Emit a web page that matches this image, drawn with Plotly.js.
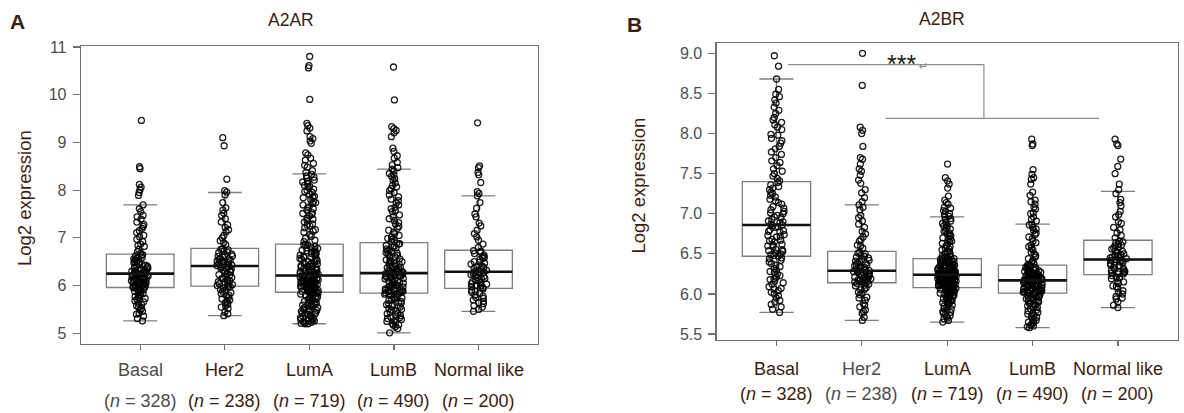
<!DOCTYPE html>
<html>
<head>
<meta charset="utf-8">
<script src="https://cdn.plot.ly/plotly-3.0.1.min.js"></script>
<style>html,body{margin:0;padding:0;background:#fff;}#chart{width:1184px;height:413px;}</style>
</head>
<body>
<div id="chart"></div>
<script>
// ---------- data ----------
const categories = ['Basal', 'Her2', 'LumA', 'LumB', 'Normal like'];
const sampleSizes = [328, 238, 719, 490, 200];

// A2AR box statistics
const a2arQ1 = [5.96, 5.99, 5.86, 5.84, 5.94];
const a2arMedian = [6.25, 6.41, 6.21, 6.26, 6.29];
const a2arQ3 = [6.66, 6.78, 6.87, 6.90, 6.74];
const a2arLowerWhisker = [5.26, 5.37, 5.20, 5.01, 5.46];
const a2arUpperWhisker = [7.69, 7.95, 8.34, 8.44, 7.88];

// A2BR box statistics
const a2brQ1 = [6.47, 6.14, 6.08, 6.01, 6.24];
const a2brMedian = [6.86, 6.29, 6.24, 6.17, 6.43];
const a2brQ3 = [7.40, 6.53, 6.44, 6.36, 6.67];
const a2brLowerWhisker = [5.77, 5.67, 5.65, 5.58, 5.83];
const a2brUpperWhisker = [8.68, 7.11, 6.96, 6.87, 7.28];

// A2AR sample points (a subset of each group)
const a2arBasal = [9.46, 8.49, 8.45, 8.12, 8.06, 8.01, 7.95, 7.89, 7.69, 7.61, 7.44, 7.39, 7.28, 7.2, 7.11, 7.02, 6.97, 6.87, 6.82, 6.71,
  6.65, 6.62, 6.57, 6.56, 6.52, 6.49, 6.48, 6.44, 6.41, 6.4, 6.37, 6.35, 6.35, 6.32, 6.31, 6.3, 6.28, 6.27, 6.26, 6.26,
  6.24, 6.23, 6.21, 6.2, 6.2, 6.17, 6.16, 6.14, 6.13, 6.11, 6.1, 6.08, 6.07, 6.05, 6.04, 6.02, 6.01, 6.0, 5.98, 5.97,
  5.95, 5.92, 5.91, 5.88, 5.86, 5.83, 5.81, 5.77, 5.75, 5.71, 5.68, 5.63, 5.6, 5.55, 5.52, 5.46, 5.42, 5.36, 5.31, 5.26,
  6.63, 6.59, 6.54, 6.5, 6.46, 6.43, 6.39, 6.33, 6.29, 6.25, 6.22, 6.18, 6.15, 6.12, 6.09, 6.06, 6.03, 5.99, 5.96, 5.93,
  5.89, 5.85, 5.79, 5.73, 5.66, 5.58, 5.49, 5.4, 6.76, 6.84, 6.92, 7.05, 7.15, 7.24, 7.33, 7.47, 7.55, 6.68, 6.36, 6.13];
const a2arHer2 = [9.10, 8.93, 8.23, 7.99, 7.96, 7.9, 7.74, 7.63, 7.52, 7.47, 7.33, 7.22, 7.13, 7.05, 6.94, 6.86,
  6.77, 6.75, 6.7, 6.69, 6.64, 6.62, 6.6, 6.56, 6.55, 6.51, 6.5, 6.47, 6.46, 6.44, 6.43, 6.42,
  6.4, 6.37, 6.36, 6.32, 6.3, 6.28, 6.23, 6.22, 6.17, 6.15, 6.14, 6.1, 6.07, 6.05, 6.04, 6.01, 6.0,
  5.97, 5.95, 5.9, 5.88, 5.85, 5.8, 5.78, 5.72, 5.7, 5.64, 5.61, 5.55, 5.52, 5.45, 5.41, 5.37,
  6.76, 6.72, 6.66, 6.61, 6.57, 6.53, 6.49, 6.45, 6.39, 6.34, 6.29, 6.25, 6.19, 6.12, 6.08, 6.02, 5.98, 5.92, 5.83, 5.75,
  5.66, 5.58, 6.9, 7.0, 7.17, 7.27, 7.4, 7.58];
const a2arLumA = [10.8, 10.61, 10.56, 9.9, 9.4, 9.35, 9.3, 9.24, 9.12, 9.08, 9.03, 8.98, 8.78, 8.74, 8.67, 8.63, 8.56, 8.52, 8.48, 8.41,
  8.37, 8.3, 8.27, 8.21, 8.17, 8.1, 8.06, 7.99, 7.95, 7.87, 7.84, 7.76, 7.72, 7.65, 7.61, 7.53, 7.49, 7.41, 7.37, 7.29, 7.25, 7.17, 7.12, 7.03, 6.95,
  6.86, 6.85, 6.82, 6.79, 6.78, 6.74, 6.73, 6.7, 6.67, 6.66, 6.63, 6.6, 6.59, 6.56, 6.55, 6.52, 6.5, 6.47, 6.46, 6.44, 6.42, 6.4, 6.39, 6.37, 6.35, 6.34, 6.32, 6.3, 6.29, 6.28, 6.26, 6.25, 6.24, 6.23, 6.22, 6.21,
  6.2, 6.2, 6.18, 6.17, 6.16, 6.15, 6.14, 6.14, 6.12, 6.11, 6.1, 6.09, 6.08, 6.06, 6.06, 6.05, 6.03, 6.03, 6.02, 6.0, 6.0, 5.99, 5.97, 5.97, 5.96, 5.94, 5.94, 5.93, 5.91, 5.91, 5.9, 5.88, 5.88, 5.87, 5.86, 5.86,
  5.85, 5.83, 5.82, 5.8, 5.78, 5.77, 5.74, 5.73, 5.71, 5.68, 5.67, 5.65, 5.63, 5.6, 5.59, 5.57, 5.54, 5.53, 5.5, 5.48, 5.46, 5.43, 5.42, 5.4, 5.37, 5.36, 5.33, 5.32, 5.29, 5.28, 5.26, 5.24, 5.23, 5.21, 5.2, 5.2,
  6.85, 6.8, 6.76, 6.71, 6.68, 6.64, 6.61, 6.57, 6.53, 6.49, 6.45, 6.41, 6.38, 6.33, 6.3, 6.27, 6.24, 6.22, 6.19, 6.17,
  6.13, 6.11, 6.07, 6.04, 6.01, 5.98, 5.95, 5.92, 5.89, 5.87, 5.84, 5.81, 5.76, 5.72, 5.69, 5.64, 5.61, 5.56, 5.51, 5.47,
  5.44, 5.39, 5.35, 5.31, 5.27, 5.22, 6.92, 6.99, 7.07, 7.14, 7.21, 7.27, 7.33, 7.39, 7.46, 7.51, 7.58, 7.63, 7.69, 7.74,
  7.8, 7.86, 7.91, 7.97, 8.02, 8.08, 8.14, 8.19, 8.25, 8.33];
const a2arLumB = [10.58, 9.89, 9.33, 9.29, 9.25, 9.2, 9.12, 8.88, 8.81, 8.72, 8.67, 8.58, 8.53, 8.47, 8.44, 8.35, 8.29, 8.21, 8.1, 8.03, 7.95, 7.86, 7.78, 7.69, 7.61, 7.55, 7.44, 7.36, 7.29, 7.2, 7.12, 7.05, 6.99, 6.94, 6.92,
  6.89, 6.87, 6.83, 6.81, 6.77, 6.75, 6.71, 6.69, 6.66, 6.62, 6.6, 6.58, 6.54, 6.52, 6.49, 6.47, 6.45, 6.41, 6.4, 6.38, 6.35, 6.34, 6.32, 6.31, 6.29, 6.28, 6.27, 6.27, 6.26, 6.26,
  6.25, 6.24, 6.23, 6.21, 6.2, 6.19, 6.17, 6.15, 6.14, 6.12, 6.1, 6.09, 6.07, 6.06, 6.03, 6.02, 6.0, 5.99, 5.97, 5.96, 5.94, 5.92, 5.91, 5.9, 5.89, 5.88, 5.87, 5.86, 5.85, 5.84,
  5.83, 5.81, 5.79, 5.77, 5.74, 5.72, 5.7, 5.67, 5.65, 5.62, 5.6, 5.58, 5.55, 5.52, 5.5, 5.47, 5.44, 5.42, 5.39, 5.37, 5.34, 5.31, 5.29, 5.26, 5.23, 5.2, 5.17, 5.14, 5.1, 5.01,
  6.88, 6.84, 6.79, 6.73, 6.68, 6.63, 6.56, 6.5, 6.43, 6.37, 6.3, 6.24, 6.18, 6.11, 6.05, 5.98, 5.93, 5.88, 5.82, 5.75,
  5.69, 5.63, 5.56, 5.49, 5.41, 5.33, 5.25, 5.18, 6.97, 7.02, 7.09, 7.16, 7.24, 7.32, 7.4, 7.48, 7.57, 7.64, 7.73, 7.81,
  7.9, 7.99, 8.07, 8.15, 8.24, 8.32, 8.4, 6.21, 6.01, 6.46];
const a2arNormal = [9.41, 8.51, 8.47, 8.37, 8.32, 8.16, 7.97, 7.93, 7.88, 7.74, 7.62, 7.44, 7.31, 7.16, 7.02, 6.87,
  6.73, 6.7, 6.67, 6.61, 6.59, 6.55, 6.5, 6.49, 6.45, 6.41, 6.4, 6.36, 6.34, 6.31, 6.3,
  6.28, 6.26, 6.25, 6.21, 6.19, 6.17, 6.14, 6.11, 6.1, 6.06, 6.04, 6.03, 6.0, 5.98, 5.96,
  5.93, 5.9, 5.88, 5.84, 5.8, 5.78, 5.73, 5.7, 5.67, 5.62, 5.58, 5.55, 5.5, 5.46,
  6.72, 6.64, 6.57, 6.47, 6.38, 6.32, 6.27, 6.23, 6.15, 6.08, 6.01, 5.95, 5.86, 5.75, 5.64, 6.8, 6.95, 7.09, 7.25, 7.5];

// A2BR sample points
const a2brBasal = [8.97, 8.84, 8.68, 8.55, 8.49, 8.42, 8.33, 8.29, 8.2, 8.17, 8.11, 8.05, 7.99, 7.94, 7.88, 7.81, 7.77, 7.7, 7.64, 7.56, 7.5, 7.44,
  7.39, 7.36, 7.34, 7.3, 7.27, 7.23, 7.21, 7.18, 7.14, 7.12, 7.09, 7.05, 7.03, 7.0, 6.98, 6.95, 6.93, 6.9, 6.89, 6.87, 6.86,
  6.85, 6.83, 6.8, 6.79, 6.77, 6.74, 6.73, 6.71, 6.68, 6.67, 6.65, 6.62, 6.61, 6.59, 6.56, 6.55, 6.53, 6.51, 6.5, 6.48, 6.47,
  6.45, 6.42, 6.38, 6.36, 6.34, 6.3, 6.27, 6.25, 6.21, 6.18, 6.16, 6.12, 6.09, 6.06, 6.02, 5.98, 5.95, 5.9, 5.87, 5.81, 5.77,
  7.98, 7.91, 7.84, 7.74, 7.66, 7.6, 7.53, 7.47, 7.41, 7.32, 7.25, 7.16, 7.07, 7.01, 6.96, 6.91, 6.84, 6.78, 6.72, 6.66,
  6.6, 6.54, 6.49, 6.44, 6.4, 6.32, 6.23, 6.14, 6.07, 6.0, 5.92, 5.84, 8.08, 8.14, 8.25, 8.38, 8.46, 6.28, 6.19, 6.04];
const a2brHer2 = [9.0, 8.6, 8.08, 8.04, 8.0, 7.84, 7.7, 7.68, 7.62, 7.56, 7.53, 7.48, 7.42, 7.38, 7.3, 7.26, 7.2, 7.15, 7.11, 7.05, 6.98, 6.91, 6.83, 6.78, 6.71, 6.66, 6.61, 6.57,
  6.52, 6.5, 6.48, 6.46, 6.45, 6.42, 6.4, 6.39, 6.37, 6.35, 6.34, 6.32, 6.31, 6.3, 6.29,
  6.28, 6.27, 6.27, 6.25, 6.24, 6.23, 6.22, 6.21, 6.2, 6.19, 6.18, 6.17, 6.16, 6.15, 6.14,
  6.12, 6.1, 6.08, 6.05, 6.02, 5.99, 5.96, 5.92, 5.88, 5.84, 5.8, 5.76, 5.71, 5.67,
  6.51, 6.47, 6.43, 6.41, 6.38, 6.36, 6.33, 6.3, 6.28, 6.26, 6.24, 6.21, 6.19, 6.17, 6.15, 6.13, 6.11, 6.06, 6.01, 5.95,
  5.86, 5.78, 6.6, 6.68, 6.75, 6.87, 6.95, 7.08];
const a2brLumA = [7.62, 7.45, 7.41, 7.37, 7.32, 7.22, 7.17, 7.12, 7.08, 7.04, 7.0, 6.97, 6.94, 6.91, 6.88, 6.85, 6.82, 6.79, 6.76, 6.73, 6.7, 6.68, 6.65, 6.61, 6.59, 6.56, 6.53, 6.51, 6.49, 6.47, 6.45,
  6.44, 6.43, 6.42, 6.41, 6.4, 6.39, 6.38, 6.37, 6.36, 6.36, 6.35, 6.34, 6.33, 6.32, 6.31, 6.31, 6.3, 6.29, 6.29, 6.28, 6.28, 6.27, 6.27, 6.26, 6.26, 6.25, 6.25, 6.25, 6.24, 6.24, 6.24, 6.24,
  6.24, 6.23, 6.23, 6.22, 6.22, 6.21, 6.21, 6.2, 6.2, 6.19, 6.19, 6.18, 6.18, 6.17, 6.16, 6.16, 6.15, 6.15, 6.14, 6.14, 6.13, 6.12, 6.12, 6.11, 6.11, 6.1, 6.1, 6.09, 6.09, 6.08, 6.08, 6.08,
  6.07, 6.06, 6.05, 6.04, 6.03, 6.02, 6.01, 6.0, 5.99, 5.98, 5.97, 5.96, 5.95, 5.94, 5.93, 5.92, 5.9, 5.89, 5.87, 5.86, 5.84, 5.82, 5.8, 5.78, 5.76, 5.74, 5.72, 5.7, 5.67, 5.65,
  6.43, 6.41, 6.39, 6.37, 6.35, 6.33, 6.31, 6.3, 6.28, 6.26, 6.25, 6.23, 6.21, 6.2, 6.18, 6.17, 6.15, 6.13, 6.12, 6.1,
  6.09, 6.07, 6.05, 6.03, 6.0, 5.98, 5.95, 5.93, 5.91, 5.88, 5.85, 5.81, 5.77, 5.73, 5.69, 6.46, 6.48, 6.5, 6.52, 6.55,
  6.57, 6.6, 6.63, 6.66, 6.69, 6.72, 6.75, 6.78, 6.81, 6.84, 6.87, 6.9, 6.93, 6.96, 6.99, 7.03, 7.07, 7.14, 6.32, 6.27,
  6.22, 6.16, 6.11, 6.06, 6.02, 5.97, 6.36, 6.29, 6.24, 6.19, 6.14, 6.08, 6.04, 5.99, 6.34, 6.26, 6.21, 6.13, 6.4, 6.45];
const a2brLumB = [7.93, 7.87, 7.85, 7.55, 7.49, 7.45, 7.43, 7.37, 7.27, 7.23, 7.17, 7.12, 7.06, 7.01, 6.96, 6.91, 6.87, 6.83, 6.79, 6.74, 6.69, 6.64, 6.59, 6.55, 6.5, 6.46, 6.42, 6.38,
  6.36, 6.35, 6.34, 6.33, 6.32, 6.31, 6.3, 6.29, 6.28, 6.27, 6.27, 6.26, 6.25, 6.24, 6.23, 6.23, 6.22, 6.21, 6.21, 6.2, 6.2, 6.19, 6.19, 6.18, 6.18, 6.18, 6.17, 6.17,
  6.16, 6.16, 6.15, 6.15, 6.14, 6.14, 6.13, 6.12, 6.12, 6.11, 6.1, 6.1, 6.09, 6.08, 6.08, 6.07, 6.06, 6.06, 6.05, 6.04, 6.04, 6.03, 6.03, 6.02, 6.02, 6.01,
  6.0, 5.99, 5.98, 5.96, 5.95, 5.94, 5.92, 5.91, 5.89, 5.88, 5.86, 5.85, 5.83, 5.81, 5.79, 5.77, 5.75, 5.73, 5.71, 5.69, 5.67, 5.65, 5.62, 5.6, 5.59, 5.58,
  6.35, 6.33, 6.31, 6.29, 6.27, 6.25, 6.22, 6.2, 6.18, 6.16, 6.14, 6.12, 6.1, 6.08, 6.06, 6.04, 6.02, 6.0, 5.97, 5.94,
  5.91, 5.88, 5.84, 5.8, 5.76, 5.72, 5.68, 5.64, 5.61, 6.4, 6.44, 6.48, 6.52, 6.57, 6.61, 6.66, 6.71, 6.76, 6.81, 6.86,
  6.93, 7.0, 7.08, 7.15, 6.24, 6.19, 6.13, 6.07, 6.01, 5.96, 5.9, 6.28, 6.11, 6.05, 5.99];
const a2brNormal = [7.93, 7.87, 7.85, 7.68, 7.59, 7.5, 7.37, 7.3, 7.25, 7.18, 7.1, 7.03, 6.96, 6.9, 6.83, 6.76, 6.7,
  6.66, 6.64, 6.62, 6.6, 6.58, 6.56, 6.54, 6.52, 6.5, 6.48, 6.47, 6.46, 6.45, 6.44, 6.43,
  6.42, 6.41, 6.4, 6.38, 6.36, 6.35, 6.33, 6.31, 6.3, 6.29, 6.28, 6.27, 6.26, 6.25,
  6.23, 6.21, 6.19, 6.16, 6.13, 6.1, 6.07, 6.04, 6.0, 5.97, 5.94, 5.9, 5.86, 5.83,
  6.65, 6.61, 6.57, 6.53, 6.49, 6.45, 6.42, 6.39, 6.36, 6.32, 6.28, 6.25, 6.2, 6.15, 6.09, 6.02, 5.95, 6.73, 6.8, 6.88, 6.99, 7.14];

const a2arSamples = [a2arBasal, a2arHer2, a2arLumA, a2arLumB, a2arNormal];
const a2brSamples = [a2brBasal, a2brHer2, a2brLumA, a2brLumB, a2brNormal];

// ---------- styles ----------
const FONT = 'Liberation Sans, Arial, Helvetica, sans-serif';
const BROWN = '#3b1d12';
const GREY_TXT = '#4d4d4d';
const AXIS_GREY = '#707070';
const labelColorsA = [GREY_TXT, BROWN, BROWN, BROWN, BROWN];
const labelColorsB = [BROWN, GREY_TXT, BROWN, BROWN, BROWN];

function flatten(samples) {
  const xs = [], ys = [];
  samples.forEach((vals, i) => vals.forEach(v => { xs.push(categories[i]); ys.push(v); }));
  return {xs, ys};
}

function panelTraces(xa, ya, q1, med, q3, lo, hi, samples) {
  const pts = flatten(samples);
  return [
    { type: 'box', xaxis: xa, yaxis: ya, x: categories, q1: q1, median: med, q3: q3,
      lowerfence: lo, upperfence: hi, boxpoints: false, width: 0.8, whiskerwidth: 0.5,
      line: {color: '#7e7e7e', width: 1.3}, fillcolor: 'rgba(255,255,255,0)', hoverinfo: 'skip' },
    { type: 'box', xaxis: xa, yaxis: ya, x: pts.xs, y: pts.ys, boxpoints: 'all', jitter: 0.28, pointpos: 0,
      width: 0.8, line: {color: 'rgba(0,0,0,0)', width: 0}, fillcolor: 'rgba(0,0,0,0)',
      marker: {symbol: 'circle-open', size: 6, color: 'rgba(0,0,0,0.88)', line: {width: 1.3}}, hoverinfo: 'skip' },
    { type: 'box', xaxis: xa, yaxis: ya, x: categories, q1: med, median: med, q3: med,
      lowerfence: med, upperfence: med, boxpoints: false, width: 0.8, whiskerwidth: 0,
      line: {color: '#111111', width: 2.6}, fillcolor: 'rgba(0,0,0,0)', hoverinfo: 'skip' }
  ];
}

const data = [
  ...panelTraces('x', 'y', a2arQ1, a2arMedian, a2arQ3, a2arLowerWhisker, a2arUpperWhisker, a2arSamples),
  ...panelTraces('x2', 'y2', a2brQ1, a2brMedian, a2brQ3, a2brLowerWhisker, a2brUpperWhisker, a2brSamples)
];

const W = 1184, H = 413;
const px = v => v / W;
const py = v => 1 - v / H;

const xAxisBase = {
  type: 'category', categoryorder: 'array', categoryarray: categories,
  range: [-0.7, 4.7], showline: true, mirror: true, linecolor: AXIS_GREY, linewidth: 1.3,
  ticks: 'outside', ticklen: 5, tickcolor: AXIS_GREY, tickwidth: 1.2,
  showticklabels: false, showgrid: false, zeroline: false, fixedrange: true
};
const yAxisBase = {
  showline: true, mirror: true, linecolor: AXIS_GREY, linewidth: 1.3,
  ticks: 'outside', ticklen: 7, tickcolor: AXIS_GREY, tickwidth: 1.2,
  showgrid: false, zeroline: false, fixedrange: true,
  tickfont: {family: FONT, size: 16, color: GREY_TXT}, ticklabelstandoff: 3
};

const annotations = [];
function addText(text, x, y, size, color, opts) {
  annotations.push(Object.assign({text: text, x: x, y: y, xref: 'paper', yref: 'paper',
    showarrow: false, xanchor: 'center', yanchor: 'middle',
    font: {family: FONT, size: size, color: color}}, opts || {}));
}
// panel letters and titles
addText('<b>A</b>', px(17.5), py(21.5), 21, BROWN);
addText('<b>B</b>', px(634.5), py(24), 21, BROWN);
addText('A2AR', px(291), py(20.5), 17.5, BROWN);
addText('A2BR', px(942), py(19), 17.5, BROWN);
addText('Log2 expression', px(24), py(198), 18.5, BROWN, {textangle: -90});
addText('Log2 expression', px(637.5), py(186), 18.5, BROWN, {textangle: -90});

// category labels and group sizes
categories.forEach((c, i) => {
  annotations.push({text: c, x: c, xref: 'x', y: py(370), yref: 'paper', showarrow: false,
    xanchor: 'center', yanchor: 'middle', font: {family: FONT, size: 18, color: labelColorsA[i]}});
  annotations.push({text: '(<i>n</i> = ' + sampleSizes[i] + ')', x: c, xref: 'x', y: py(401), yref: 'paper',
    showarrow: false, xanchor: 'center', yanchor: 'middle', font: {family: FONT, size: 18, color: labelColorsA[i]}});
  annotations.push({text: c, x: c, xref: 'x2', y: py(369), yref: 'paper', showarrow: false,
    xanchor: 'center', yanchor: 'middle', font: {family: FONT, size: 18, color: labelColorsB[i]}});
  annotations.push({text: '(<i>n</i> = ' + sampleSizes[i] + ')', x: c, xref: 'x2', y: py(394), yref: 'paper',
    showarrow: false, xanchor: 'center', yanchor: 'middle', font: {family: FONT, size: 18, color: labelColorsB[i]}});
});

// significance mark
annotations.push({text: '***', x: 1.47, xref: 'x2', y: 8.87, yref: 'y2', showarrow: false,
  xanchor: 'center', yanchor: 'middle', font: {family: FONT, size: 25, color: '#1a1a1a'}});
annotations.push({text: '\u21b5', x: 1.72, xref: 'x2', y: 8.83, yref: 'y2', showarrow: false,
  xanchor: 'center', yanchor: 'middle', font: {family: 'DejaVu Sans', size: 11, color: '#8a8a8a'}});

const bracket = {color: '#8c8c8c', width: 1.2};
const shapes = [
  {type: 'line', xref: 'x2', yref: 'y2', x0: 0.137, x1: 2.43, y0: 8.86, y1: 8.86, line: bracket},
  {type: 'line', xref: 'x2', yref: 'y2', x0: 2.43, x1: 2.43, y0: 8.86, y1: 8.19, line: bracket},
  {type: 'line', xref: 'x2', yref: 'y2', x0: 1.276, x1: 3.78, y0: 8.19, y1: 8.19, line: bracket}
];

const layout = {
  width: W, height: H, autosize: false,
  margin: {l: 0, r: 0, t: 0, b: 0, pad: 0},
  paper_bgcolor: '#ffffff', plot_bgcolor: '#ffffff',
  showlegend: false, hovermode: false, boxmode: 'overlay',
  font: {family: FONT, color: BROWN},
  xaxis: Object.assign({}, xAxisBase, {domain: [px(81), px(537.7)], anchor: 'y'}),
  yaxis: Object.assign({}, yAxisBase, {domain: [py(344), py(46)], anchor: 'x',
    range: [4.776, 11.02], tickvals: [5, 6, 7, 8, 9, 10, 11]}),
  xaxis2: Object.assign({}, xAxisBase, {domain: [px(716.7), px(1177.7)], anchor: 'y2'}),
  yaxis2: Object.assign({}, yAxisBase, {domain: [py(339.7), py(43.3)], anchor: 'x2',
    range: [5.43, 9.125], tickvals: [5.5, 6, 6.5, 7, 7.5, 8, 8.5, 9], tickformat: '.1f'}),
  annotations: annotations,
  shapes: shapes
};

Plotly.newPlot('chart', data, layout, {staticPlot: true, displayModeBar: false});
</script>
</body>
</html>
